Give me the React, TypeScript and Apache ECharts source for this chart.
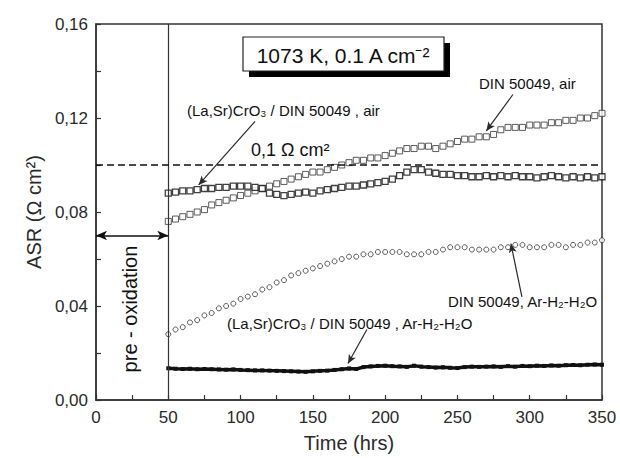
import React, { useEffect, useRef } from "react";
import * as echarts from "echarts";

const hours = [50,55,60,65,70,75,80,85,90,95,100,105,110,115,120,125,130,135,140,145,150,155,160,165,170,175,180,185,190,195,200,205,210,215,220,225,230,235,240,245,250,255,260,265,270,275,280,285,290,295,300,305,310,315,320,325,330,335,340,345,350];

const dinAir = [0.076,0.077,0.078,0.079,0.080,0.081,0.083,0.084,0.085,0.086,0.087,0.088,0.089,0.090,0.091,0.092,0.093,0.094,0.095,0.096,0.097,0.097,0.098,0.099,0.100,0.101,0.102,0.102,0.103,0.103,0.104,0.105,0.106,0.107,0.107,0.108,0.108,0.107,0.108,0.109,0.110,0.111,0.111,0.112,0.112,0.113,0.115,0.116,0.116,0.116,0.117,0.117,0.117,0.118,0.118,0.119,0.119,0.120,0.120,0.121,0.122];

const lscAir = [0.088,0.0885,0.089,0.089,0.0895,0.090,0.090,0.0905,0.0905,0.091,0.091,0.091,0.0905,0.090,0.088,0.0875,0.087,0.0875,0.088,0.0885,0.088,0.089,0.0895,0.090,0.0905,0.091,0.091,0.0915,0.092,0.0925,0.093,0.094,0.0955,0.097,0.098,0.098,0.097,0.0965,0.096,0.096,0.0955,0.0955,0.095,0.095,0.0955,0.095,0.0955,0.095,0.0955,0.095,0.095,0.0945,0.095,0.0955,0.095,0.0945,0.095,0.0945,0.095,0.0945,0.095];

const dinAr = [0.028,0.030,0.031,0.033,0.034,0.036,0.037,0.039,0.040,0.041,0.043,0.044,0.045,0.047,0.048,0.050,0.051,0.053,0.054,0.055,0.056,0.057,0.058,0.059,0.060,0.061,0.061,0.062,0.062,0.063,0.063,0.063,0.063,0.062,0.062,0.062,0.063,0.063,0.064,0.065,0.065,0.065,0.064,0.064,0.064,0.064,0.065,0.065,0.066,0.066,0.065,0.065,0.065,0.066,0.066,0.065,0.066,0.066,0.067,0.067,0.068];

const lscAr = [0.0135,0.0133,0.0132,0.0133,0.0131,0.0132,0.0131,0.0130,0.0129,0.0130,0.0128,0.0127,0.0126,0.0126,0.0125,0.0124,0.0123,0.0122,0.0121,0.0120,0.0122,0.0124,0.0125,0.0128,0.0131,0.0134,0.0132,0.0140,0.0143,0.0145,0.0146,0.0144,0.0143,0.0141,0.0146,0.0142,0.0140,0.0138,0.0139,0.0137,0.0136,0.0140,0.0142,0.0141,0.0142,0.0143,0.0141,0.0144,0.0142,0.0145,0.0144,0.0146,0.0145,0.0147,0.0146,0.0148,0.0149,0.0148,0.0150,0.0151,0.0150];

const xTicks = { min: 0, max: 350, interval: 50 };
const yTicks = { min: 0, max: 0.16, interval: 0.04 };

const FONT = "'Liberation Sans', Arial, sans-serif";
const INK = "#2a2a2a";

const pair = (ys: number[]) => hours.map((h, i) => [h, ys[i]]);

export default function App() {
  const ref = useRef<HTMLDivElement>(null);
  useEffect(() => {
    if (!ref.current) return;
    const chart = echarts.init(ref.current, undefined, { renderer: "svg" });
    const arrowLine = { color: INK, width: 1.2, type: "solid" as const };
    chart.setOption({
      animation: false,
      backgroundColor: "#ffffff",
      grid: { left: 96, right: 18, top: 24, bottom: 55, show: true, borderColor: "#333", borderWidth: 1.5 },
      xAxis: {
        type: "value",
        min: xTicks.min,
        max: xTicks.max,
        interval: xTicks.interval,
        name: "Time (hrs)",
        nameLocation: "middle",
        nameGap: 33,
        nameTextStyle: { fontFamily: FONT, fontSize: 20, color: INK },
        axisLine: { show: true, onZero: false, lineStyle: { color: "#333", width: 1.5 } },
        axisTick: { show: true, inside: true, length: 5, lineStyle: { color: "#333", width: 1.2 } },
        minorTick: { show: true, splitNumber: 2, length: 5, lineStyle: { color: "#333", width: 1.2 } },
        axisLabel: { fontFamily: FONT, fontSize: 17, color: INK, margin: 9 },
        splitLine: { show: false },
      },
      yAxis: {
        type: "value",
        min: yTicks.min,
        max: yTicks.max,
        interval: yTicks.interval,
        name: "ASR (\u03A9 cm\u00B2)",
        nameLocation: "middle",
        nameGap: 52,
        nameTextStyle: { fontFamily: FONT, fontSize: 20, color: INK },
        axisLine: { show: true, onZero: false, lineStyle: { color: "#333", width: 1.5 } },
        axisTick: { show: true, inside: true, length: 5, lineStyle: { color: "#333", width: 1.2 } },
        minorTick: { show: true, splitNumber: 2, length: 5, lineStyle: { color: "#333", width: 1.2 } },
        axisLabel: {
          fontFamily: FONT, fontSize: 17, color: INK, margin: 8,
          formatter: (v: number) => v.toFixed(2).replace(".", ","),
        },
        splitLine: { show: false },
      },
      series: [
        {
          name: "DIN 50049, air",
          type: "scatter",
          data: pair(dinAir),
          symbol: "rect",
          symbolSize: 6,
          itemStyle: { color: "#fff", borderColor: "#333", borderWidth: 1 },
          z: 3,
        },
        {
          name: "(La,Sr)CrO3 / DIN 50049, air",
          type: "scatter",
          data: pair(lscAir),
          symbol: "rect",
          symbolSize: [6, 6],
          itemStyle: { color: "#fff", borderColor: "#111", borderWidth: 1.3 },
          z: 4,
        },
        {
          name: "DIN 50049, Ar-H2-H2O",
          type: "scatter",
          data: pair(dinAr),
          symbol: "circle",
          symbolSize: 5,
          itemStyle: { color: "#fff", borderColor: "#333", borderWidth: 1 },
          z: 3,
        },
        {
          name: "(La,Sr)CrO3 / DIN 50049, Ar-H2-H2O",
          type: "line",
          data: pair(lscAr),
          symbol: "rect",
          symbolSize: 4,
          showSymbol: true,
          lineStyle: { color: "#111", width: 3.5 },
          itemStyle: { color: "#111" },
          z: 3,
          markLine: {
            silent: true,
            symbol: ["none", "none"],
            label: { show: false },
            data: [
              [{ coord: [50, 0], lineStyle: { color: "#333", width: 1.2, type: "solid" } }, { coord: [50, 0.16] }],
              [{ coord: [0, 0.1], lineStyle: { color: "#111", width: 1.5, type: [7, 4] } }, { coord: [350, 0.1] }],
              [{ coord: [0, 0.07], symbol: "arrow", symbolSize: [7, 11], lineStyle: { color: "#111", width: 1.5, type: "solid" } }, { coord: [50, 0.07], symbol: "arrow", symbolSize: [7, 11] }],
              [{ coord: [110, 0.1186], lineStyle: arrowLine }, { coord: [71, 0.0915], symbol: "arrow", symbolSize: [6, 9] }],
              [{ coord: [288.4, 0.130], lineStyle: arrowLine }, { coord: [270, 0.1145], symbol: "arrow", symbolSize: [6, 9] }],
              [{ coord: [294.6, 0.0439], lineStyle: arrowLine }, { coord: [287, 0.0665], symbol: "arrow", symbolSize: [6, 9] }],
              [{ coord: [187.4, 0.030], lineStyle: arrowLine }, { coord: [174.3, 0.0155], symbol: "arrow", symbolSize: [6, 9] }],
            ],
          },
        },
      ],
      graphic: [
        { type: "rect", shape: { x: 249, y: 43, width: 201, height: 34 }, style: { fill: "#000" }, z: 10 },
        { type: "rect", shape: { x: 243, y: 37, width: 201, height: 34 }, style: { fill: "#fff", stroke: "#222", lineWidth: 1.2 }, z: 11 },
        { type: "text", x: 343, y: 55, z: 12, style: { text: "1073 K, 0.1 A cm\u207B\u00B2", font: `21px ${FONT}`, fill: "#111", align: "center", verticalAlign: "middle" } },
        { type: "text", x: 187, y: 110, z: 12, style: { text: "(La,Sr)CrO\u2083 / DIN 50049 , air", font: `15px ${FONT}`, fill: "#111", verticalAlign: "middle" } },
        { type: "text", x: 479, y: 83, z: 12, style: { text: "DIN 50049, air", font: `15px ${FONT}`, fill: "#111", verticalAlign: "middle" } },
        { type: "text", x: 251, y: 150, z: 12, style: { text: "0,1 \u03A9 cm\u00B2", font: `18px ${FONT}`, fill: "#111", verticalAlign: "middle" } },
        { type: "text", x: 448, y: 301, z: 12, style: { text: "DIN 50049, Ar-H\u2082-H\u2082O", font: `15px ${FONT}`, fill: "#111", verticalAlign: "middle" } },
        { type: "text", x: 227, y: 323, z: 12, style: { text: "(La,Sr)CrO\u2083 / DIN 50049 , Ar-H\u2082-H\u2082O", font: `15px ${FONT}`, fill: "#111", verticalAlign: "middle" } },
        { type: "text", x: 130, y: 309, rotation: Math.PI / 2, z: 12, style: { text: "pre - oxidation", font: `20px ${FONT}`, fill: "#111", align: "center", verticalAlign: "middle" } },
      ],
    });
    return () => chart.dispose();
  }, []);
  return <div ref={ref} style={{ position: "fixed", left: 0, top: 0, width: 620, height: 458 }} />;
}
